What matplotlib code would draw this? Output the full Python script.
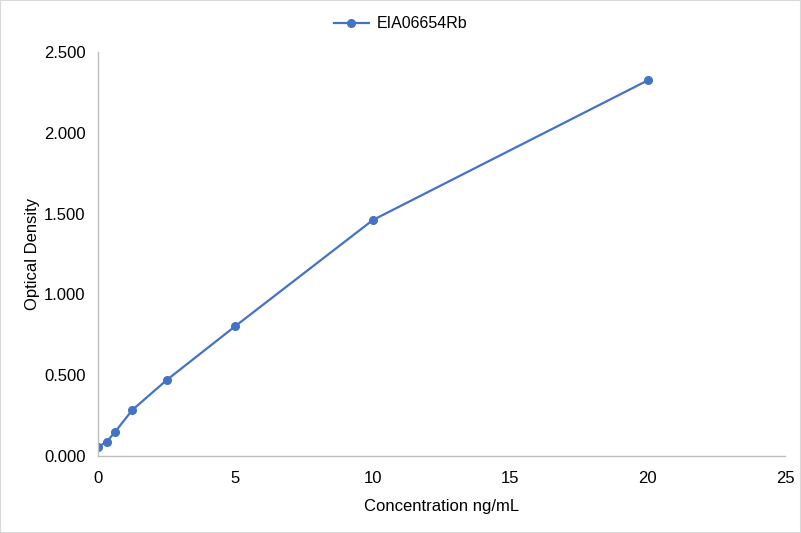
import matplotlib
matplotlib.use("Agg")
import matplotlib.pyplot as plt
from matplotlib.patches import Rectangle

# standard curve
concentration = [0, 0.3125, 0.625, 1.25, 2.5, 5, 10, 20]
optical_density = [0.056, 0.087, 0.150, 0.285, 0.470, 0.804, 1.460, 2.324]
series_name = "EIA06654Rb"

x_ticks = [0, 5, 10, 15, 20, 25]
y_ticks = [0.0, 0.5, 1.0, 1.5, 2.0, 2.5]

LINE_COLOR = "#4472C4"
AXIS_COLOR = "#BFBFBF"

plt.rcParams["font.family"] = ["Liberation Sans", "DejaVu Sans"]

fig = plt.figure(figsize=(8.01, 5.33), dpi=100)
ax = fig.add_axes([98 / 801, 77 / 533, 687 / 801, 404 / 533])

ax.plot(concentration, optical_density, color=LINE_COLOR, linewidth=1.6,
        marker="o", markersize=5.5, label=series_name)

ax.set_xlim(0, 25)
ax.set_ylim(0, 2.5)
ax.set_xticks(x_ticks)
ax.set_yticks(y_ticks)
ax.set_yticklabels([f"{v:.3f}" for v in y_ticks])

for side in ("top", "right"):
    ax.spines[side].set_visible(False)
for side in ("left", "bottom"):
    ax.spines[side].set_color(AXIS_COLOR)
    ax.spines[side].set_linewidth(1.0)

ax.tick_params(axis="both", length=0, labelsize=12, colors="black")
ax.tick_params(axis="y", pad=9)
ax.tick_params(axis="x", pad=11)

ax.set_xlabel("Concentration ng/mL", fontsize=12, color="black", labelpad=9)
ax.set_ylabel("Optical Density", fontsize=12, color="black", labelpad=3)

# legend sits centred on the whole figure, above the plot
fig.legend(loc="center", bbox_to_anchor=(0.5, 1 - 24 / 533), frameon=False,
           fontsize=11.5, handlelength=2.2, handletextpad=0.5)

# thin grey border around the whole chart area
fig.patches.append(Rectangle((0, 0), 1, 1, transform=fig.transFigure,
                             fill=False, edgecolor="#D9D9D9", linewidth=1.5))

fig.savefig("out.png", dpi=100)
